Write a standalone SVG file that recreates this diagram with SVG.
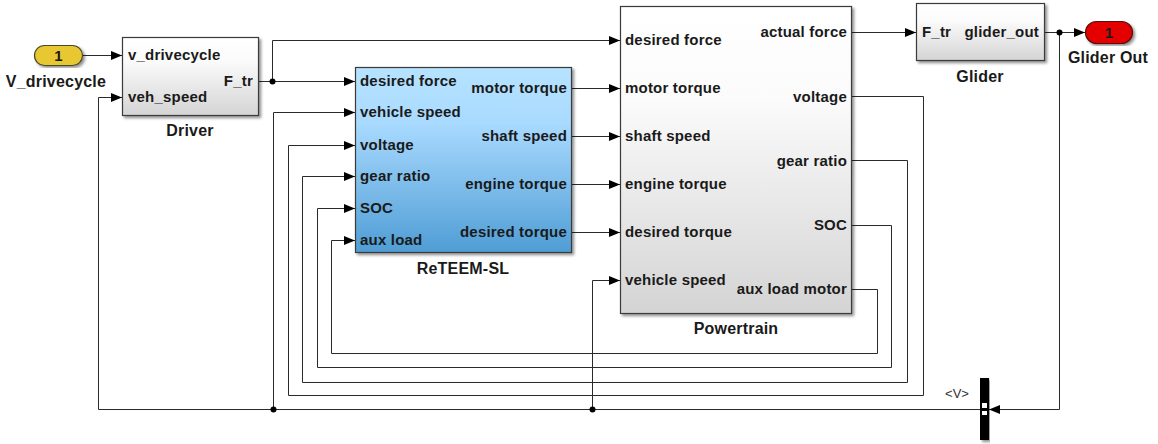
<svg xmlns="http://www.w3.org/2000/svg" width="1158" height="444" viewBox="0 0 1158 444">
<defs>
<linearGradient id="gGray" x1="0" y1="0" x2="0" y2="1"><stop offset="0" stop-color="#ffffff"/><stop offset="0.3" stop-color="#fbfbfb"/><stop offset="1" stop-color="#d4d4d4"/></linearGradient>
<linearGradient id="gBlue" x1="0" y1="0" x2="0" y2="1"><stop offset="0" stop-color="#b6e3ff"/><stop offset="0.3" stop-color="#a9daff"/><stop offset="1" stop-color="#4f9dd5"/></linearGradient>
<filter id="sh" x="-5%" y="-5%" width="115%" height="115%"><feGaussianBlur in="SourceAlpha" stdDeviation="1.5"/><feOffset dx="2" dy="2"/><feComponentTransfer><feFuncA type="linear" slope="0.45"/></feComponentTransfer><feMerge><feMergeNode/><feMergeNode in="SourceGraphic"/></feMerge></filter>
<marker id="ar" markerWidth="12" markerHeight="10" refX="11" refY="5" orient="auto" markerUnits="userSpaceOnUse"><path d="M0,0.5 L11,5 L0,9.5 z" fill="#000"/></marker>
</defs>
<style>
.w{fill:none;stroke:#2a2a2a;stroke-width:1}
.a{marker-end:url(#ar)}
.t{font-family:"Liberation Sans",Arial,sans-serif;font-weight:bold;font-size:15px;fill:#1a1a1a;letter-spacing:0.2px}
.r{text-anchor:end}
.m{text-anchor:middle}
.lbl{font-size:16px}
.blk{stroke:#3a3a3a;stroke-width:1.2}
.dot{fill:#000}
</style>
<rect width="1158" height="444" fill="#fff"/>

<g id="connectors">
<path class="w a" d="M82.5,55.5 H122"/>
<path class="w" d="M259,81.5 H272.5"/>
<path class="w a" d="M272.5,81.5 H355"/>
<path class="w a" d="M272.5,81.5 V40.5 H620"/>
<path class="w a" d="M572,88.5 H620"/>
<path class="w a" d="M572,136.5 H620"/>
<path class="w a" d="M572,184.5 H620"/>
<path class="w a" d="M572,232.5 H620"/>
<path class="w a" d="M852,32.5 H916"/>
<path class="w a" d="M1045,32.5 H1085"/>
<path class="w a" d="M1059.5,32.5 V409.5 H989"/>
<path class="w a" d="M980,409.5 H98.5 V97.5 H122"/>
<path class="w a" d="M273.5,409.5 V112.5 H355"/>
<path class="w a" d="M592.5,409.5 V280.5 H620"/>
<path class="w a" d="M852,96.5 H923.5 V395.5 H288.5 V145.5 H355"/>
<path class="w a" d="M852,160.5 H907.5 V382.5 H302.5 V176.5 H355"/>
<path class="w a" d="M852,225.5 H891.5 V367.5 H317.5 V208.5 H355"/>
<path class="w a" d="M852,289.5 H877.5 V353.5 H331.5 V240.5 H355"/>
<circle class="dot" cx="272.5" cy="81.5" r="3"/>
<circle class="dot" cx="1059.5" cy="32.5" r="3"/>
<circle class="dot" cx="273.5" cy="409.5" r="3"/>
<circle class="dot" cx="592.5" cy="409.5" r="3"/>
</g>

<g id="inport">
<rect x="34.5" y="45.5" width="48" height="20" rx="10" fill="#e8c832" stroke="#4a4a2a" stroke-width="1.2" filter="url(#sh)"/>
<text class="t m" x="58.5" y="61" font-size="15">1</text>
<text class="t m lbl" x="56" y="87">V_drivecycle</text>
</g>

<g id="driver">
<rect class="blk" x="122.5" y="37.5" width="136" height="78" fill="url(#gGray)" filter="url(#sh)"/>
<text class="t" x="128" y="60">v_drivecycle</text>
<text class="t" x="128" y="102">veh_speed</text>
<text class="t r" x="253" y="86">F_tr</text>
<text class="t m lbl" x="190" y="136">Driver</text>
</g>

<g id="reteem">
<rect class="blk" x="355.5" y="67.5" width="216" height="185" fill="url(#gBlue)" filter="url(#sh)"/>
<text class="t" x="360" y="86">desired force</text>
<text class="t" x="360" y="117">vehicle speed</text>
<text class="t" x="360" y="150">voltage</text>
<text class="t" x="360" y="181">gear ratio</text>
<text class="t" x="360" y="213">SOC</text>
<text class="t" x="360" y="245">aux load</text>
<text class="t r" x="567" y="93">motor torque</text>
<text class="t r" x="567" y="141">shaft speed</text>
<text class="t r" x="567" y="189">engine torque</text>
<text class="t r" x="567" y="237">desired torque</text>
<text class="t m lbl" x="463" y="274">ReTEEM-SL</text>
</g>

<g id="powertrain">
<rect class="blk" x="620.5" y="6.5" width="231" height="307" fill="url(#gGray)" filter="url(#sh)"/>
<text class="t" x="625" y="45">desired force</text>
<text class="t" x="625" y="93">motor torque</text>
<text class="t" x="625" y="141">shaft speed</text>
<text class="t" x="625" y="189">engine torque</text>
<text class="t" x="625" y="237">desired torque</text>
<text class="t" x="625" y="285">vehicle speed</text>
<text class="t r" x="847" y="37">actual force</text>
<text class="t r" x="847" y="102">voltage</text>
<text class="t r" x="847" y="166">gear ratio</text>
<text class="t r" x="847" y="230">SOC</text>
<text class="t r" x="847" y="294">aux load motor</text>
<text class="t m lbl" x="736" y="334">Powertrain</text>
</g>

<g id="glider">
<rect class="blk" x="916.5" y="3.5" width="128" height="57" fill="url(#gGray)" filter="url(#sh)"/>
<text class="t" x="922" y="37">F_tr</text>
<text class="t r" x="1039" y="37">glider_out</text>
<text class="t m lbl" x="980" y="82">Glider</text>
</g>

<g id="outport">
<rect x="1085.5" y="21.5" width="47" height="22" rx="11" fill="#e50000" stroke="#5a1010" stroke-width="1.2" filter="url(#sh)"/>
<text class="t m" x="1109" y="38" font-size="15">1</text>
<text class="t m lbl" x="1108" y="63">Glider Out</text>
</g>

<g id="busselector">
<rect x="980" y="378" width="9" height="62" fill="#000" filter="url(#sh)"/>
<rect x="982" y="403" width="5" height="5" fill="#fff"/>
<rect x="982" y="411" width="5" height="4" fill="#fff"/>
<text x="957" y="398" font-family="Liberation Sans, Arial, sans-serif" font-size="13" fill="#333" text-anchor="middle">&lt;V&gt;</text>
</g>
</svg>
